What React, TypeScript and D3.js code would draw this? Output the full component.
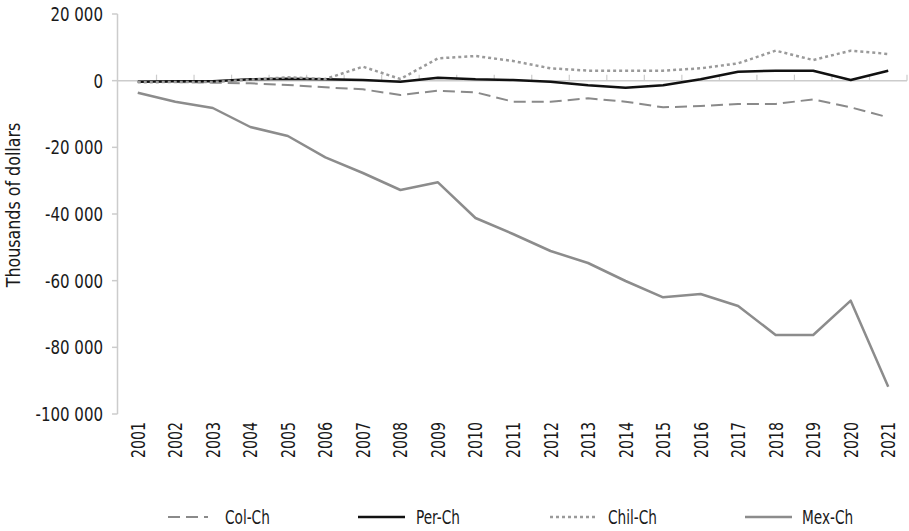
import React from "react";
import * as d3 from "d3";

const years = ["2001","2002","2003","2004","2005","2006","2007","2008","2009","2010","2011","2012","2013","2014","2015","2016","2017","2018","2019","2020","2021"];
const colCh = [-300,-400,-600,-800,-1300,-2000,-2600,-4300,-3000,-3500,-6300,-6300,-5300,-6300,-8000,-7600,-7000,-7000,-5600,-8000,-11000];
const perCh = [-300,-200,-200,400,600,400,200,-300,900,400,200,-300,-1400,-2100,-1400,400,2700,3000,3000,200,3000];
const chilCh = [-500,-400,-400,300,1000,500,4200,500,6700,7400,5900,3700,3000,3000,3000,3700,5200,9000,6200,9000,8000];
const mexCh = [-3600,-6300,-8200,-13900,-16600,-23000,-27700,-32800,-30500,-41200,-46000,-51100,-54700,-60100,-65000,-64000,-67600,-76300,-76300,-66000,-91800];
const yTicks = [20000,0,-20000,-40000,-60000,-80000,-100000];

const FONT = "'DejaVu Sans Condensed', 'DejaVu Sans', sans-serif";

const series = [
  { name: "Col-Ch", values: colCh, color: "#8a8a8a", width: 2, dash: "12,6" },
  { name: "Per-Ch", values: perCh, color: "#111111", width: 2.5, dash: "" },
  { name: "Chil-Ch", values: chilCh, color: "#9a9a9a", width: 2.5, dash: "3,3" },
  { name: "Mex-Ch", values: mexCh, color: "#8c8c8c", width: 2.5, dash: "" },
];

const legendPos = [
  { x1: 168, x2: 208, tx: 225 },
  { x1: 358, x2: 405, tx: 416 },
  { x1: 550, x2: 598, tx: 608 },
  { x1: 745, x2: 792, tx: 802 },
];

function Txt({ x, y, rot = 0, sx = 0.85, anchor = "start", children }: any) {
  return (
    <text transform={`translate(${x},${y}) rotate(${rot}) scale(${sx},1)`} textAnchor={anchor}
      fontSize={19} fill="#1a1a1a">{children}</text>
  );
}

export default function App() {
  const W = 909, H = 531;
  const x = d3.scaleBand<string>().domain(years).range([119, 907]);
  const y = d3.scaleLinear().domain([-100000, 20000]).range([414, 14]);
  const cx = (i: number) => (x(years[i]) as number) + x.bandwidth() / 2;
  const line = d3.line<number>().x((_, i) => cx(i)).y(d => y(d));
  const fmt = (v: number) => {
    const s = Math.abs(v).toString().replace(/\B(?=(\d{3})+(?!\d))/g, " ");
    return (v < 0 ? "-" : "") + s;
  };
  const axisColor = "#cccccc";
  const boundaries = years.map((_, i) => (x(years[i]) as number) + x.bandwidth());
  return (
    <svg width={W} height={H} style={{ position: "absolute", left: 0, top: 0, background: "#fff" }} fontFamily={FONT}>
      {/* y axis */}
      <line x1={117.5} x2={117.5} y1={y(20000)} y2={y(-100000)} stroke={axisColor} strokeWidth={1.5} />
      {yTicks.map(t => (
        <g key={t}>
          <line x1={112} x2={117.5} y1={y(t)} y2={y(t)} stroke={axisColor} strokeWidth={1.5} />
          <Txt x={103} y={y(t) + 7} anchor="end" sx={0.88}>{fmt(t)}</Txt>
        </g>
      ))}
      {/* zero axis */}
      <line x1={117.5} x2={907} y1={y(0)} y2={y(0)} stroke={axisColor} strokeWidth={1.5} />
      {boundaries.map((b, i) => (
        <line key={i} x1={b} x2={b} y1={y(0)} y2={y(0) - 6} stroke={axisColor} strokeWidth={1.2} />
      ))}
      {/* y label */}
      <Txt x={20} y={205} rot={-90} anchor="middle" sx={0.93}>Thousands of dollars</Txt>
      {/* x labels */}
      {years.map((yr, i) => (
        <Txt key={yr} x={cx(i) + 7} y={422} rot={-90} anchor="end" sx={0.83}>{yr}</Txt>
      ))}
      {/* series */}
      {series.map(s => (
        <path key={s.name} d={line(s.values) as string} fill="none" stroke={s.color} strokeWidth={s.width}
          strokeDasharray={s.dash || undefined} strokeLinejoin="round" />
      ))}
      {/* legend */}
      {series.map((s, i) => (
        <g key={s.name}>
          <line x1={legendPos[i].x1} x2={legendPos[i].x2} y1={517} y2={517} stroke={s.color} strokeWidth={s.width}
            strokeDasharray={s.dash || undefined} />
          <Txt x={legendPos[i].tx} y={524} sx={0.8}>{s.name}</Txt>
        </g>
      ))}
    </svg>
  );
}
